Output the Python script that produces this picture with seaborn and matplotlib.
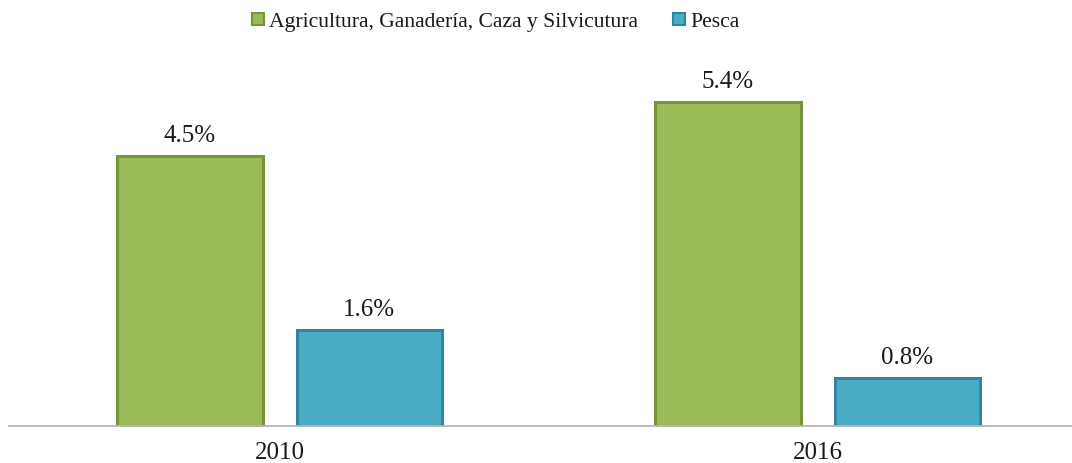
import pandas as pd
import matplotlib.pyplot as plt
import seaborn as sns

# Chart data
years = ['2010', '2016']
series = ['Agricultura, Ganadería, Caza y Silvicutura', 'Pesca']
agricultura = [4.5, 5.4]
pesca = [1.6, 0.8]

fills = ['#9BBB59', '#4BACC6']
edges = ['#77933C', '#31859C']

df = pd.DataFrame({
    'Año': years * 2,
    'Serie': [series[0]] * len(years) + [series[1]] * len(years),
    'Valor': agricultura + pesca,
})

sns.set_theme(style='white')
plt.rcParams['font.family'] = ['Liberation Serif', 'DejaVu Serif']

fig = plt.figure(figsize=(10.72, 4.64), dpi=100)
ax = fig.add_axes([9 / 1072, 37 / 464, 1 - 9 / 1072, 360 / 464])

sns.barplot(data=df, x='Año', y='Valor', hue='Serie', hue_order=series,
            palette=fills, saturation=1, width=0.667, gap=0.19, ax=ax,
            legend=False)

# Darker outline per series
for cont, ec in zip(ax.containers, edges):
    for patch in cont:
        patch.set_edgecolor(ec)
        patch.set_linewidth(2.2)
    ax.bar_label(cont, fmt='%.1f%%', padding=7, fontsize=18, color='#1a1a1a')

ax.set_xlim(-0.503, 1.473)
ax.set_ylim(0, 6)
ax.set_xlabel('')
ax.set_ylabel('')
ax.set_yticks([])
ax.tick_params(axis='x', length=0, pad=11, labelsize=18, labelcolor='#1a1a1a')

for name, spine in ax.spines.items():
    if name == 'bottom':
        spine.set_visible(True)
        spine.set_color('#b5b5b5')
        spine.set_linewidth(1.3)
    else:
        spine.set_visible(False)

# Legend with square markers
handles = [plt.Line2D([], [], marker='s', linestyle='', markersize=9,
                      markerfacecolor=f, markeredgecolor=e, markeredgewidth=1.5)
           for f, e in zip(fills, edges)]
fig.legend(handles, series, loc='center', bbox_to_anchor=(0.461, 0.952),
           ncol=2, frameon=False, fontsize=15.6, handletextpad=0.1,
           columnspacing=1.5, handlelength=0.8, labelcolor='#1a1a1a')

fig.savefig('out.png', dpi=100)
